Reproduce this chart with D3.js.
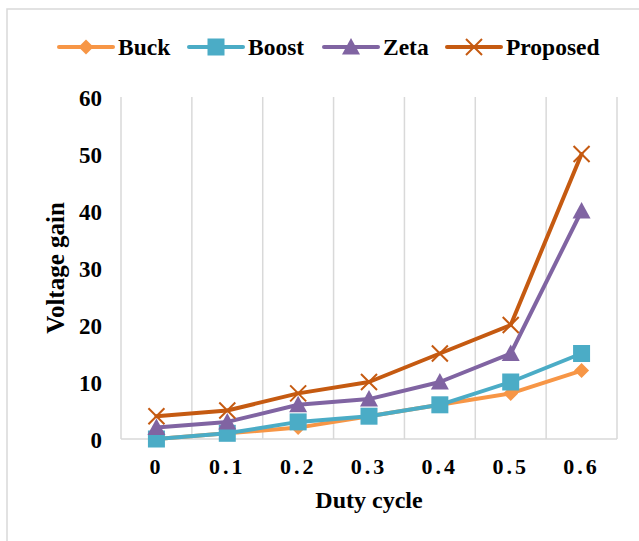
<!DOCTYPE html>
<html>
<head>
<meta charset="utf-8">
<script src="https://cdnjs.cloudflare.com/ajax/libs/d3/7.8.5/d3.min.js"></script>
<style>
  html, body { margin: 0; padding: 0; background: #fff; }
  svg { display: block; }
  text { font-family: "Liberation Serif", "Times New Roman", serif; font-weight: bold; fill: #000; }
</style>
</head>
<body>
<svg id="chart" width="639" height="541"></svg>
<script>
// Duty cycle categories and voltage gain per converter topology
const dutyCycles = ["0", "0.1", "0.2", "0.3", "0.4", "0.5", "0.6"];
const buck     = [0, 1, 2, 4, 6, 8, 12];
const boost    = [0, 1, 3, 4, 6, 10, 15];
const zeta     = [2, 3, 6, 7, 10, 15, 40];
const proposed = [4, 5, 8, 10, 15, 20, 50];
const yTicks   = [0, 10, 20, 30, 40, 50, 60];

const series = [
  { name: "Buck",     values: buck,     color: "#F79646", marker: "diamond" },
  { name: "Boost",    values: boost,    color: "#4BACC6", marker: "square" },
  { name: "Zeta",     values: zeta,     color: "#8064A2", marker: "triangle" },
  { name: "Proposed", values: proposed, color: "#C55A11", marker: "cross" }
];

const svg = d3.select("#chart");
const plot = { left: 121, right: 617, top: 97, bottom: 439 };

// Outer chart frame
svg.append("rect")
  .attr("x", 7).attr("y", 9)
  .attr("width", 700).attr("height", 600)
  .attr("fill", "none").attr("stroke", "#D9D9D9").attr("stroke-width", 1.5);

const x = d3.scaleBand().domain(dutyCycles).range([plot.left, plot.right]).padding(0);
const y = d3.scaleLinear().domain([0, 60]).range([plot.bottom, plot.top]);

// Vertical gridlines at category boundaries
const gridX = dutyCycles.map(d => x(d)).concat([plot.right]);
svg.append("g").selectAll("line").data(gridX).join("line")
  .attr("x1", d => d).attr("x2", d => d)
  .attr("y1", plot.top).attr("y2", plot.bottom)
  .attr("stroke", "#D9D9D9").attr("stroke-width", 1.5);

// Category axis baseline
svg.append("line")
  .attr("x1", plot.left).attr("x2", plot.right)
  .attr("y1", plot.bottom).attr("y2", plot.bottom)
  .attr("stroke", "#D9D9D9").attr("stroke-width", 1.5);

// Y axis tick labels
const yAxis = d3.axisLeft(y).tickValues(yTicks).tickSize(0).tickPadding(0);
const yg = svg.append("g").attr("transform", `translate(${plot.left - 19},0)`).call(yAxis);
yg.select(".domain").remove();
yg.selectAll("text")
  .attr("font-family", "Liberation Serif").attr("font-weight", "bold")
  .attr("font-size", 23).attr("dy", "0.35em").attr("fill", "#000");

// X axis tick labels
const xAxis = d3.axisBottom(x).tickSize(0).tickPadding(0);
const xg = svg.append("g").attr("transform", `translate(0,${plot.bottom + 19})`).call(xAxis);
xg.select(".domain").remove();
xg.selectAll("text")
  .attr("font-family", "Liberation Serif").attr("font-weight", "bold")
  .attr("font-size", 22).attr("dy", "0.71em").attr("fill", "#000")
  .attr("letter-spacing", 3);

// Axis titles
svg.append("text")
  .attr("x", (plot.left + plot.right) / 2).attr("y", 508)
  .attr("text-anchor", "middle").attr("font-size", 24)
  .text("Duty cycle");
svg.append("text")
  .attr("transform", `translate(64,${(plot.top + plot.bottom) / 2}) rotate(-90)`)
  .attr("text-anchor", "middle").attr("font-size", 25)
  .text("Voltage gain");

// Marker shapes
function drawMarker(g, type, color, cx, cy) {
  if (type === "diamond") {
    g.append("path").attr("d", `M${cx},${cy - 7.5}L${cx + 7.5},${cy}L${cx},${cy + 7.5}L${cx - 7.5},${cy}Z`).attr("fill", color);
  } else if (type === "square") {
    g.append("rect").attr("x", cx - 8.5).attr("y", cy - 8.5).attr("width", 17).attr("height", 17).attr("fill", color);
  } else if (type === "triangle") {
    g.append("path").attr("d", `M${cx},${cy - 9}L${cx + 9},${cy + 7.5}L${cx - 9},${cy + 7.5}Z`).attr("fill", color);
  } else if (type === "cross") {
    g.append("path").attr("d", `M${cx - 8},${cy - 8}L${cx + 8},${cy + 8}M${cx + 8},${cy - 8}L${cx - 8},${cy + 8}`)
      .attr("stroke", color).attr("stroke-width", 2).attr("fill", "none");
  }
}

const line = d3.line()
  .x((d, i) => x(dutyCycles[i]) + x.bandwidth() / 2)
  .y(d => y(d));

series.forEach(s => {
  const g = svg.append("g");
  g.append("path").datum(s.values).attr("d", line)
    .attr("fill", "none").attr("stroke", s.color).attr("stroke-width", 4)
    .attr("stroke-linejoin", "round").attr("stroke-linecap", "round");
  s.values.forEach((v, i) => {
    drawMarker(g, s.marker, s.color, x(dutyCycles[i]) + x.bandwidth() / 2, y(v));
  });
});

// Legend
const legendX = [59, 189, 324, 447];
series.forEach((s, i) => {
  const g = svg.append("g");
  const lx = legendX[i];
  g.append("line").attr("x1", lx).attr("x2", lx + 54).attr("y1", 47).attr("y2", 47)
    .attr("stroke", s.color).attr("stroke-width", 4).attr("stroke-linecap", "round");
  drawMarker(g, s.marker, s.color, lx + 27, 47);
  g.append("text").attr("x", lx + 59).attr("y", 55).attr("font-size", 23.5).text(s.name);
});
</script>
</body>
</html>
